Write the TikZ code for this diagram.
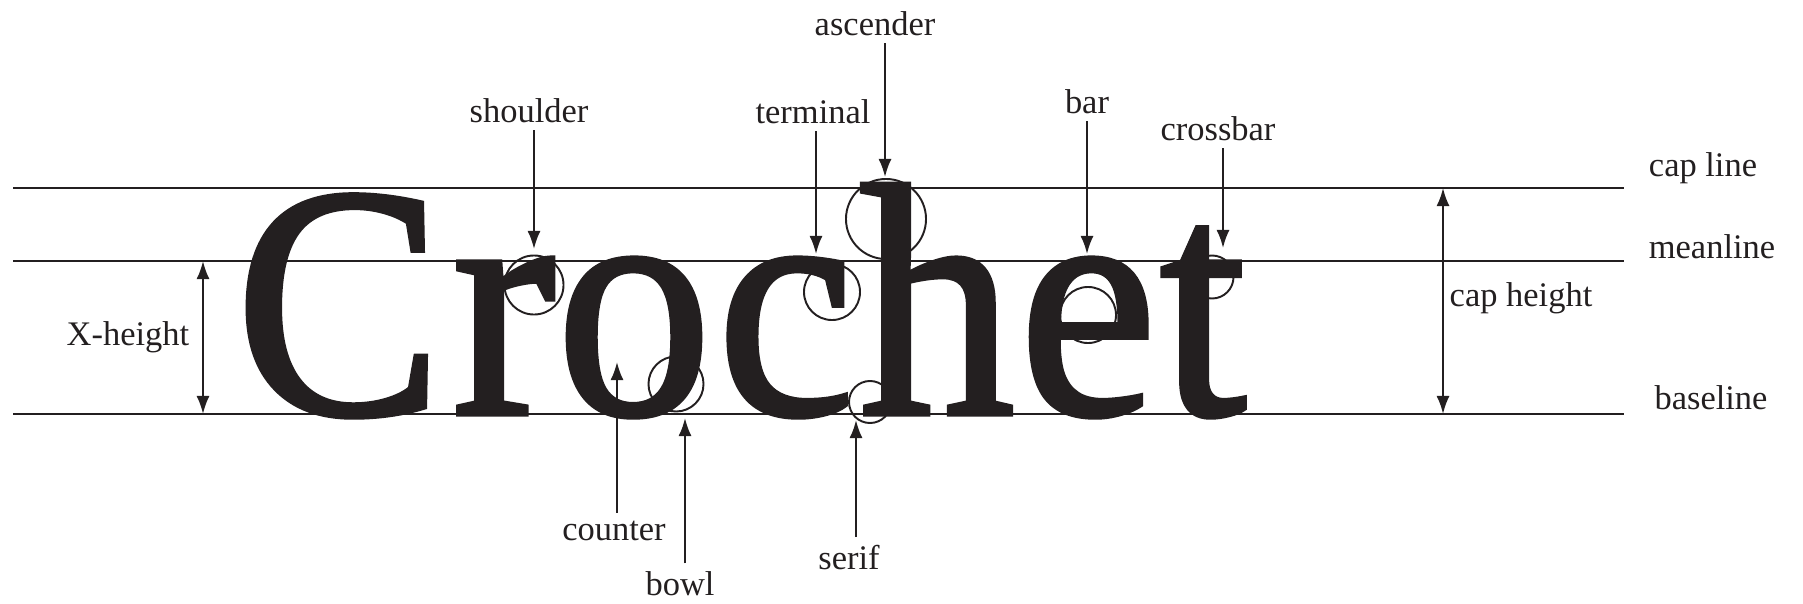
\documentclass[tikz,border=0pt]{standalone}
\usepackage{fontspec}
\setmainfont{Liberation Serif}
\newfontfamily\heavyserif[FakeBold=1.5]{Liberation Serif}
\usepackage{tikz}
\usetikzlibrary{arrows.meta, positioning, calc}
\definecolor{inkblack}{RGB}{35,31,32}

\begin{document}
\begin{tikzpicture}[x=0.01cm, y=-0.01cm, inkblack,
        guide/.style={draw, line width=0.75pt},
        glyph/.style={anchor=base, inner sep=0, xscale=0.94, font=\heavyserif\fontsize{94.2}{100}\selectfont},
        part/.style={anchor=base, inner sep=2pt, font=\fontsize{9.8}{12}\selectfont},
        ring/.style={draw, circle, inner sep=0, line width=0.55pt},
        line/.style={draw, -{Latex[length=1.8mm, width=1.3mm]}, line width=0.6pt},
        dimline/.style={draw, {Latex[length=1.8mm, width=1.3mm]}-{Latex[length=1.8mm, width=1.3mm]}, line width=0.6pt}]

        \useasboundingbox (0,0) rectangle (1803,603);

        % Guide lines
        \coordinate (capwest) at (13,188);
        \coordinate (capeast) at (1624,188);
        \coordinate (meanwest) at (13,261);
        \coordinate (meaneast) at (1624,261);
        \coordinate (basewest) at (13,414);
        \coordinate (baseeast) at (1624,414);
        \draw[guide] (capwest) -- (capeast);
        \draw[guide] (meanwest) -- (meaneast);
        \draw[guide] (basewest) -- (baseeast);

        % Letters
        \foreach \ch/\xx in {C/339, r/504, o/634, c/786, h/937, e/1088, t/1203}
            \node[glyph] (letter\ch) at (\xx,414) {\ch};

        % Rings
        \node[ring, minimum size=0.59cm] (shoulder) at (534,285) {};
        \node[ring, minimum size=0.56cm] (terminal) at (832,292) {};
        \node[ring, minimum size=0.80cm] (ascender) at (886,219) {};
        \node[ring, minimum size=0.56cm] (bar) at (1088,315) {};
        \node[ring, minimum size=0.43cm] (crossbar) at (1212,277) {};
        \node[ring, minimum size=0.55cm] (bowl) at (676,384) {};
        \node[ring, minimum size=0.42cm] (serif) at (870,402) {};

        % Labels
        \node[part] (shouldertext) at (529,122) {shoulder};
        \node[part] (terminaltext) at (813,123) {terminal};
        \node[part] (ascendertext) at (875,35) {ascender};
        \node[part] (bartext) at (1087,113) {bar};
        \node[part] (crossbartext) at (1218,140) {crossbar};
        \node[part] (countertext) at (614,540) {counter};
        \node[part] (bowltext) at (680,595) {bowl};
        \node[part] (seriftext) at (849,569) {serif};
        \node[part] (xheighttext) at (128,345) {X-height};
        \node[part] (capheighttext) at (1521,306) {cap height};
        \node[part] (caplinetext) at (1703,176) {cap line};
        \node[part] (meanlinetext) at (1712,258) {meanline};
        \node[part] (baselinetext) at (1711,409) {baseline};

        % Arrow tips
        \coordinate (shouldertip) at (534,249);
        \coordinate (terminaltip) at (816,254);
        \coordinate (ascendertip) at (885,177);
        \coordinate (bartip) at (1087,254);
        \coordinate (crossbartip) at (1223,248);
        \coordinate (countertip) at (617,362);
        \coordinate (bowltip) at (685,418);
        \coordinate (seriftip) at (856,420);

        % Paths
        \path[line] (shouldertext.south -| shouldertip) -- (shouldertip);
        \path[line] (terminaltext.south -| terminaltip) -- (terminaltip);
        \path[line] (ascendertext.south -| ascendertip) -- (ascendertip);
        \path[line] (bartext.south -| bartip) -- (bartip);
        \path[line] (crossbartext.south -| crossbartip) -- (crossbartip);
        \path[line] (countertext.north -| countertip) -- (countertip);
        \path[line] (bowltext.north -| bowltip) -- (bowltip);
        \path[line] (seriftext.north -| seriftip) -- (seriftip);

        % Heights
        \coordinate (xheightaxis) at (203,0);
        \coordinate (capheightaxis) at (1443,0);
        \path[dimline] (meanwest -| xheightaxis) -- (basewest -| xheightaxis);
        \path[dimline] (capeast -| capheightaxis) -- (baseeast -| capheightaxis);

\end{tikzpicture}
\end{document}
